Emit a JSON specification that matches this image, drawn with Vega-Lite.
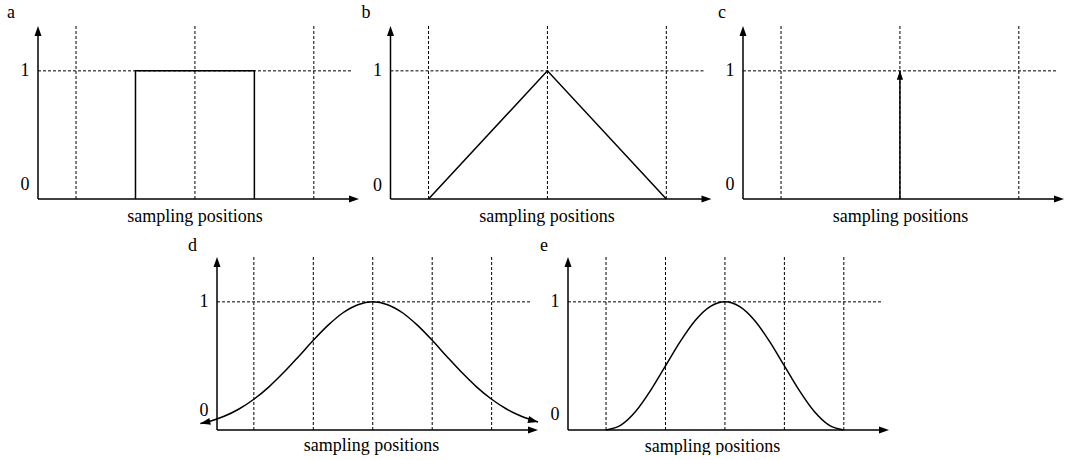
{
  "$schema": "https://vega.github.io/schema/vega-lite/v6.json",
  "padding": {"left": 7, "top": 3, "right": 0, "bottom": 0},
  "background": "white",
  "config": {
    "view": {"stroke": null},
    "font": "Liberation Serif",
    "axis": {
      "domain": false, "ticks": false, "grid": false,
      "labelFont": "Liberation Serif", "labelFontSize": 18, "labelColor": "black",
      "titleFont": "Liberation Serif", "titleFontSize": 18, "titleFontWeight": "normal", "titleColor": "black"
    },
    "title": {
      "anchor": "start", "frame": "group", "offset": 4, "baseline": "alphabetic",
      "font": "Liberation Serif", "fontSize": 18, "fontWeight": "normal", "color": "black"
    },
    "line": {"color": "black", "strokeWidth": 1.5},
    "rule": {"color": "black"}
  },
  "spacing": 11,
  "vconcat": [
    {
      "spacing": 31.5,
      "bounds": "flush",
      "hconcat": [
        {
          "width": 321, "height": 173,
          "title": {"text": "a", "dx": -31},
          "layer": [
            {
              "data": {"values": [{"pos": -1}, {"pos": 0}, {"pos": 1}]},
              "mark": {"type": "rule", "strokeDash": [3, 2], "strokeWidth": 1},
              "encoding": {
                "x": {"field": "pos", "type": "quantitative", "scale": {"domain": [-1.32, 1.38], "nice": false, "zero": false},
                      "axis": {"labels": false, "title": "sampling positions", "titleX": 156.5, "titleY": 22, "titleAlign": "center", "titleBaseline": "alphabetic"}},
                "y": {"datum": 0, "type": "quantitative", "scale": {"domain": [0, 1.35], "nice": false, "zero": false},
                      "axis": {"values": [0, 1], "format": "d", "title": null, "labelPadding": 9, "labelOffset": {"condition": {"test": "datum.value === 0", "value": -15}, "value": 0}}},
                "y2": {"datum": 1.35}
              }
            },
            {
              "data": {"values": [{}]},
              "mark": {"type": "rule", "strokeDash": [3, 2], "strokeWidth": 1},
              "encoding": {"x": {"datum": -1.32, "type": "quantitative"}, "x2": {"datum": 1.33}, "y": {"datum": 1, "type": "quantitative"}}
            },
            {
              "data": {"values": [{"k": 0, "x": -0.5, "y": 0}, {"k": 1, "x": -0.5, "y": 1}, {"k": 2, "x": 0.5, "y": 1}, {"k": 3, "x": 0.5, "y": 0}]},
              "mark": {"type": "line"},
              "encoding": {"x": {"field": "x", "type": "quantitative"}, "y": {"field": "y", "type": "quantitative"}, "order": {"field": "k", "type": "quantitative"}}
            },
            {
              "data": {"values": [{}]},
              "mark": {"type": "rule", "strokeWidth": 1.5},
              "encoding": {"x": {"datum": -1.32, "type": "quantitative"}, "y": {"datum": 0, "type": "quantitative"}, "y2": {"datum": 1.32}}
            },
            {
              "data": {"values": [{}]},
              "mark": {"type": "rule", "strokeWidth": 1.5},
              "encoding": {"x": {"datum": -1.32, "type": "quantitative"}, "x2": {"datum": 1.33}, "y": {"datum": 0, "type": "quantitative"}}
            },
            {
              "data": {"values": [{}]},
              "mark": {"type": "point", "shape": "M0,0L-0.35,1L0.35,1Z", "size": 400, "filled": true, "opacity": 1, "color": "black", "strokeWidth": 0},
              "encoding": {"x": {"datum": -1.32, "type": "quantitative"}, "y": {"datum": 1.35, "type": "quantitative"}}
            },
            {
              "data": {"values": [{}]},
              "mark": {"type": "point", "shape": "M0,0L-0.35,1L0.35,1Z", "size": 400, "filled": true, "opacity": 1, "color": "black", "strokeWidth": 0, "angle": 90},
              "encoding": {"x": {"datum": 1.38, "type": "quantitative"}, "y": {"datum": 0, "type": "quantitative"}}
            }
          ]
        },
        {
          "width": 321, "height": 173,
          "title": {"text": "b", "dx": -29},
          "layer": [
            {
              "data": {"values": [{"pos": -1}, {"pos": 0}, {"pos": 1}]},
              "mark": {"type": "rule", "strokeDash": [3, 2], "strokeWidth": 1},
              "encoding": {
                "x": {"field": "pos", "type": "quantitative", "scale": {"domain": [-1.32, 1.38], "nice": false, "zero": false},
                      "axis": {"labels": false, "title": "sampling positions", "titleX": 156, "titleY": 22, "titleAlign": "center", "titleBaseline": "alphabetic"}},
                "y": {"datum": 0, "type": "quantitative", "scale": {"domain": [0, 1.35], "nice": false, "zero": false},
                      "axis": {"values": [0, 1], "format": "d", "title": null, "labelPadding": 9, "labelOffset": {"condition": {"test": "datum.value === 0", "value": -14}, "value": 0}}},
                "y2": {"datum": 1.35}
              }
            },
            {
              "data": {"values": [{}]},
              "mark": {"type": "rule", "strokeDash": [3, 2], "strokeWidth": 1},
              "encoding": {"x": {"datum": -1.32, "type": "quantitative"}, "x2": {"datum": 1.32}, "y": {"datum": 1, "type": "quantitative"}}
            },
            {
              "data": {"values": [{"k": 0, "x": -1, "y": 0}, {"k": 1, "x": 0, "y": 1}, {"k": 2, "x": 1, "y": 0}]},
              "mark": {"type": "line"},
              "encoding": {"x": {"field": "x", "type": "quantitative"}, "y": {"field": "y", "type": "quantitative"}, "order": {"field": "k", "type": "quantitative"}}
            },
            {
              "data": {"values": [{}]},
              "mark": {"type": "rule", "strokeWidth": 1.5},
              "encoding": {"x": {"datum": -1.32, "type": "quantitative"}, "y": {"datum": 0, "type": "quantitative"}, "y2": {"datum": 1.32}}
            },
            {
              "data": {"values": [{}]},
              "mark": {"type": "rule", "strokeWidth": 1.5},
              "encoding": {"x": {"datum": -1.32, "type": "quantitative"}, "x2": {"datum": 1.33}, "y": {"datum": 0, "type": "quantitative"}}
            },
            {
              "data": {"values": [{}]},
              "mark": {"type": "point", "shape": "M0,0L-0.35,1L0.35,1Z", "size": 400, "filled": true, "opacity": 1, "color": "black", "strokeWidth": 0},
              "encoding": {"x": {"datum": -1.32, "type": "quantitative"}, "y": {"datum": 1.35, "type": "quantitative"}}
            },
            {
              "data": {"values": [{}]},
              "mark": {"type": "point", "shape": "M0,0L-0.35,1L0.35,1Z", "size": 400, "filled": true, "opacity": 1, "color": "black", "strokeWidth": 0, "angle": 90},
              "encoding": {"x": {"datum": 1.38, "type": "quantitative"}, "y": {"datum": 0, "type": "quantitative"}}
            }
          ]
        },
        {
          "width": 321, "height": 173,
          "title": {"text": "c", "dx": -25},
          "layer": [
            {
              "data": {"values": [{"pos": -1}, {"pos": 0}, {"pos": 1}]},
              "mark": {"type": "rule", "strokeDash": [3, 2], "strokeWidth": 1},
              "encoding": {
                "x": {"field": "pos", "type": "quantitative", "scale": {"domain": [-1.32, 1.38], "nice": false, "zero": false},
                      "axis": {"labels": false, "title": "sampling positions", "titleX": 157, "titleY": 22, "titleAlign": "center", "titleBaseline": "alphabetic"}},
                "y": {"datum": 0, "type": "quantitative", "scale": {"domain": [0, 1.35], "nice": false, "zero": false},
                      "axis": {"values": [0, 1], "format": "d", "title": null, "labelPadding": 9, "labelOffset": {"condition": {"test": "datum.value === 0", "value": -15}, "value": 0}}},
                "y2": {"datum": 1.35}
              }
            },
            {
              "data": {"values": [{}]},
              "mark": {"type": "rule", "strokeDash": [3, 2], "strokeWidth": 1},
              "encoding": {"x": {"datum": -1.32, "type": "quantitative"}, "x2": {"datum": 1.33}, "y": {"datum": 1, "type": "quantitative"}}
            },
            {
              "data": {"values": [{"x": 0, "y": 1}]},
              "mark": {"type": "rule", "strokeWidth": 1.5},
              "encoding": {"x": {"field": "x", "type": "quantitative"}, "y": {"field": "y", "type": "quantitative"}, "y2": {"datum": 0}}
            },
            {
              "data": {"values": [{"x": 0, "y": 1}]},
              "mark": {"type": "point", "shape": "M0,0L-0.35,1L0.35,1Z", "size": 324, "filled": true, "opacity": 1, "color": "black", "strokeWidth": 0},
              "encoding": {"x": {"field": "x", "type": "quantitative"}, "y": {"field": "y", "type": "quantitative"}}
            },
            {
              "data": {"values": [{}]},
              "mark": {"type": "rule", "strokeWidth": 1.5},
              "encoding": {"x": {"datum": -1.32, "type": "quantitative"}, "y": {"datum": 0, "type": "quantitative"}, "y2": {"datum": 1.32}}
            },
            {
              "data": {"values": [{}]},
              "mark": {"type": "rule", "strokeWidth": 1.5},
              "encoding": {"x": {"datum": -1.32, "type": "quantitative"}, "x2": {"datum": 1.33}, "y": {"datum": 0, "type": "quantitative"}}
            },
            {
              "data": {"values": [{}]},
              "mark": {"type": "point", "shape": "M0,0L-0.35,1L0.35,1Z", "size": 400, "filled": true, "opacity": 1, "color": "black", "strokeWidth": 0},
              "encoding": {"x": {"datum": -1.32, "type": "quantitative"}, "y": {"datum": 1.35, "type": "quantitative"}}
            },
            {
              "data": {"values": [{}]},
              "mark": {"type": "point", "shape": "M0,0L-0.35,1L0.35,1Z", "size": 400, "filled": true, "opacity": 1, "color": "black", "strokeWidth": 0, "angle": 90},
              "encoding": {"x": {"datum": 1.38, "type": "quantitative"}, "y": {"datum": 0, "type": "quantitative"}}
            }
          ]
        }
      ]
    },
    {
      "spacing": 30,
      "bounds": "flush",
      "hconcat": [
        {
          "width": 149, "height": 173,
          "data": {"values": []},
          "mark": {"type": "point", "opacity": 0}
        },
        {
          "width": 321, "height": 173,
          "title": {"text": "d", "dx": -29, "offset": 2},
          "layer": [
            {
              "data": {"values": [{"pos": -2}, {"pos": -1}, {"pos": 0}, {"pos": 1}, {"pos": 2}]},
              "mark": {"type": "rule", "strokeDash": [3, 2], "strokeWidth": 1},
              "encoding": {
                "x": {"field": "pos", "type": "quantitative", "scale": {"domain": [-2.62, 2.78], "nice": false, "zero": false},
                      "axis": {"labels": false, "title": "sampling positions", "titleX": 154, "titleY": 20.5, "titleAlign": "center", "titleBaseline": "alphabetic"}},
                "y": {"datum": 0, "type": "quantitative", "scale": {"domain": [0, 1.35], "nice": false, "zero": false},
                      "axis": {"values": [0, 1], "format": "d", "title": null, "labelPadding": 9, "labelOffset": {"condition": {"test": "datum.value === 0", "value": -20}, "value": 0}}},
                "y2": {"datum": 1.35}
              }
            },
            {
              "data": {"values": [{}]},
              "mark": {"type": "rule", "strokeDash": [3, 2], "strokeWidth": 1},
              "encoding": {"x": {"datum": -2.62, "type": "quantitative"}, "x2": {"datum": 2.66}, "y": {"datum": 1, "type": "quantitative"}}
            },
            {
              "data": {"values": [
                {"x": -2.9, "y": 0.05}, {"x": -2.75, "y": 0.067}, {"x": -2.5, "y": 0.107}, {"x": -2.25, "y": 0.164},
                {"x": -2, "y": 0.24}, {"x": -1.75, "y": 0.335}, {"x": -1.5, "y": 0.448}, {"x": -1.25, "y": 0.572},
                {"x": -1, "y": 0.7}, {"x": -0.75, "y": 0.818}, {"x": -0.5, "y": 0.915}, {"x": -0.25, "y": 0.978},
                {"x": 0, "y": 1}, {"x": 0.25, "y": 0.978}, {"x": 0.5, "y": 0.915}, {"x": 0.75, "y": 0.818},
                {"x": 1, "y": 0.7}, {"x": 1.25, "y": 0.572}, {"x": 1.5, "y": 0.448}, {"x": 1.75, "y": 0.335},
                {"x": 2, "y": 0.24}, {"x": 2.25, "y": 0.164}, {"x": 2.5, "y": 0.107}, {"x": 2.78, "y": 0.063}
              ]},
              "mark": {"type": "line", "interpolate": "monotone"},
              "encoding": {"x": {"field": "x", "type": "quantitative"}, "y": {"field": "y", "type": "quantitative"}}
            },
            {
              "data": {"values": [{}]},
              "mark": {"type": "rule", "strokeWidth": 1.5},
              "encoding": {"x": {"datum": -2.62, "type": "quantitative"}, "y": {"datum": 0, "type": "quantitative"}, "y2": {"datum": 1.32}}
            },
            {
              "data": {"values": [{}]},
              "mark": {"type": "rule", "strokeWidth": 1.5},
              "encoding": {"x": {"datum": -2.62, "type": "quantitative"}, "x2": {"datum": 2.72}, "y": {"datum": 0, "type": "quantitative"}}
            },
            {
              "data": {"values": [{}]},
              "mark": {"type": "point", "shape": "M0,0L-0.35,1L0.35,1Z", "size": 400, "filled": true, "opacity": 1, "color": "black", "strokeWidth": 0},
              "encoding": {"x": {"datum": -2.62, "type": "quantitative"}, "y": {"datum": 1.35, "type": "quantitative"}}
            },
            {
              "data": {"values": [{}]},
              "mark": {"type": "point", "shape": "M0,0L-0.35,1L0.35,1Z", "size": 400, "filled": true, "opacity": 1, "color": "black", "strokeWidth": 0, "angle": 90},
              "encoding": {"x": {"datum": 2.78, "type": "quantitative"}, "y": {"datum": 0, "type": "quantitative"}}
            },
            {
              "data": {"values": [{}]},
              "mark": {"type": "point", "shape": "M0,0L-0.35,1L0.35,1Z", "size": 400, "filled": true, "opacity": 1, "color": "black", "strokeWidth": 0, "angle": 257},
              "encoding": {"x": {"datum": -2.9, "type": "quantitative"}, "y": {"datum": 0.05, "type": "quantitative"}}
            },
            {
              "data": {"values": [{}]},
              "mark": {"type": "point", "shape": "M0,0L-0.35,1L0.35,1Z", "size": 400, "filled": true, "opacity": 1, "color": "black", "strokeWidth": 0, "angle": 104},
              "encoding": {"x": {"datum": 2.78, "type": "quantitative"}, "y": {"datum": 0.063, "type": "quantitative"}}
            }
          ]
        },
        {
          "width": 321, "height": 173,
          "title": {"text": "e", "dx": -28, "offset": 2},
          "layer": [
            {
              "data": {"values": [{"pos": -2}, {"pos": -1}, {"pos": 0}, {"pos": 1}, {"pos": 2}]},
              "mark": {"type": "rule", "strokeDash": [3, 2], "strokeWidth": 1},
              "encoding": {
                "x": {"field": "pos", "type": "quantitative", "scale": {"domain": [-2.64, 2.76], "nice": false, "zero": false},
                      "axis": {"labels": false, "title": "sampling positions", "titleX": 144, "titleY": 21, "titleAlign": "center", "titleBaseline": "alphabetic"}},
                "y": {"datum": 0, "type": "quantitative", "scale": {"domain": [0, 1.35], "nice": false, "zero": false},
                      "axis": {"values": [0, 1], "format": "d", "title": null, "labelPadding": 9, "labelOffset": {"condition": {"test": "datum.value === 0", "value": -16}, "value": 0}}},
                "y2": {"datum": 1.35}
              }
            },
            {
              "data": {"values": [{}]},
              "mark": {"type": "rule", "strokeDash": [3, 2], "strokeWidth": 1},
              "encoding": {"x": {"datum": -2.64, "type": "quantitative"}, "x2": {"datum": 2.66}, "y": {"datum": 1, "type": "quantitative"}}
            },
            {
              "data": {"values": [
                {"x": -2, "y": 0}, {"x": -1.75, "y": 0.038}, {"x": -1.5, "y": 0.146}, {"x": -1.25, "y": 0.309},
                {"x": -1, "y": 0.5}, {"x": -0.75, "y": 0.691}, {"x": -0.5, "y": 0.854}, {"x": -0.25, "y": 0.962},
                {"x": 0, "y": 1}, {"x": 0.25, "y": 0.962}, {"x": 0.5, "y": 0.854}, {"x": 0.75, "y": 0.691},
                {"x": 1, "y": 0.5}, {"x": 1.25, "y": 0.309}, {"x": 1.5, "y": 0.146}, {"x": 1.75, "y": 0.038},
                {"x": 2, "y": 0}
              ]},
              "mark": {"type": "line", "interpolate": "monotone"},
              "encoding": {"x": {"field": "x", "type": "quantitative"}, "y": {"field": "y", "type": "quantitative"}}
            },
            {
              "data": {"values": [{}]},
              "mark": {"type": "rule", "strokeWidth": 1.5},
              "encoding": {"x": {"datum": -2.64, "type": "quantitative"}, "y": {"datum": 0, "type": "quantitative"}, "y2": {"datum": 1.32}}
            },
            {
              "data": {"values": [{}]},
              "mark": {"type": "rule", "strokeWidth": 1.5},
              "encoding": {"x": {"datum": -2.64, "type": "quantitative"}, "x2": {"datum": 2.7}, "y": {"datum": 0, "type": "quantitative"}}
            },
            {
              "data": {"values": [{}]},
              "mark": {"type": "point", "shape": "M0,0L-0.35,1L0.35,1Z", "size": 400, "filled": true, "opacity": 1, "color": "black", "strokeWidth": 0},
              "encoding": {"x": {"datum": -2.64, "type": "quantitative"}, "y": {"datum": 1.35, "type": "quantitative"}}
            },
            {
              "data": {"values": [{}]},
              "mark": {"type": "point", "shape": "M0,0L-0.35,1L0.35,1Z", "size": 400, "filled": true, "opacity": 1, "color": "black", "strokeWidth": 0, "angle": 90},
              "encoding": {"x": {"datum": 2.76, "type": "quantitative"}, "y": {"datum": 0, "type": "quantitative"}}
            }
          ]
        }
      ]
    }
  ]
}
